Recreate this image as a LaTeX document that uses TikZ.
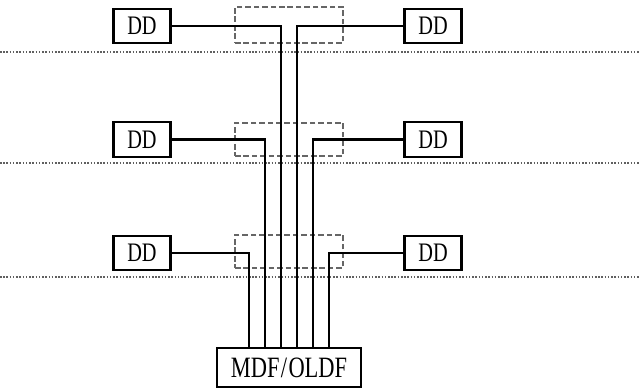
\documentclass[tikz,border=0pt]{standalone}
\usepackage{fontspec}
\setmainfont{Liberation Serif}
\newfontfamily\ddfont[FakeStretch=0.76]{Liberation Serif}
\usepackage{tikz}
\usetikzlibrary{positioning}

\begin{document}
\begin{tikzpicture}[
  x=0.25mm, y=-0.25mm,
  dd/.style={draw, line width=1.5pt, minimum width=14.25mm, minimum height=8.6mm, inner sep=0pt, font=\ddfont\fontsize{19}{19}\selectfont},
  frame/.style={draw, gray!80!black, dash pattern=on 4pt off 2pt, line width=1.2pt, minimum width=27mm, inner sep=0pt},
  wire/.style={line width=1.8pt},
  level/.style={gray!75!black, dash pattern=on 1.1pt off 1.2pt, line width=1.3pt},
]
\useasboundingbox (0,0) rectangle (639,389);

% Floor separators
\draw[level] (0,52) -- (639,52);
\draw[level] (0,163) -- (639,163);
\draw[level] (0,277) -- (639,277);

% Distribution frame
\node[dd, minimum width=36mm, minimum height=9.75mm, font=\ddfont\fontsize{21}{21}\selectfont] (mdf) at (289,367.5) {MDF\kern1pt/\kern1pt OLDF};
\coordinate (m1) at (249,348);
\coordinate (m2) at (265,348);
\coordinate (m3) at (281,348);
\coordinate (m4) at (297,348);
\coordinate (m5) at (313,348);
\coordinate (m6) at (329,348);

% Shafts
\node[frame, minimum height=9mm] (shaft1) at (289,25) {};
\node[frame, minimum height=8.25mm] (shaft2) at (289,139.5) {};
\node[frame, minimum height=8.25mm] (shaft3) at (289,251.5) {};

% Top floor
\node[dd] (ddl1) at (142,26) {DD};
\node[dd] (ddr1) at (433,26) {DD};

% Middle floor
\node[dd] (ddl2) at (142,139.5) {DD};
\node[dd] (ddr2) at (433,139.5) {DD};

% Bottom floor
\node[dd] (ddl3) at (142,253) {DD};
\node[dd] (ddr3) at (433,253) {DD};

% Cables
\draw[wire, line width=0.8pt] (ddl1.east) -| (m3);
\draw[wire, line width=2pt] (ddr1.west) -| (m4);
\draw[wire] (ddl2.east) -| (m2);
\draw[wire] (ddr2.west) -| (m5);
\draw[wire] (ddl3.east) -| (m1);
\draw[wire] (ddr3.west) -| (m6);

\end{tikzpicture}
\end{document}
